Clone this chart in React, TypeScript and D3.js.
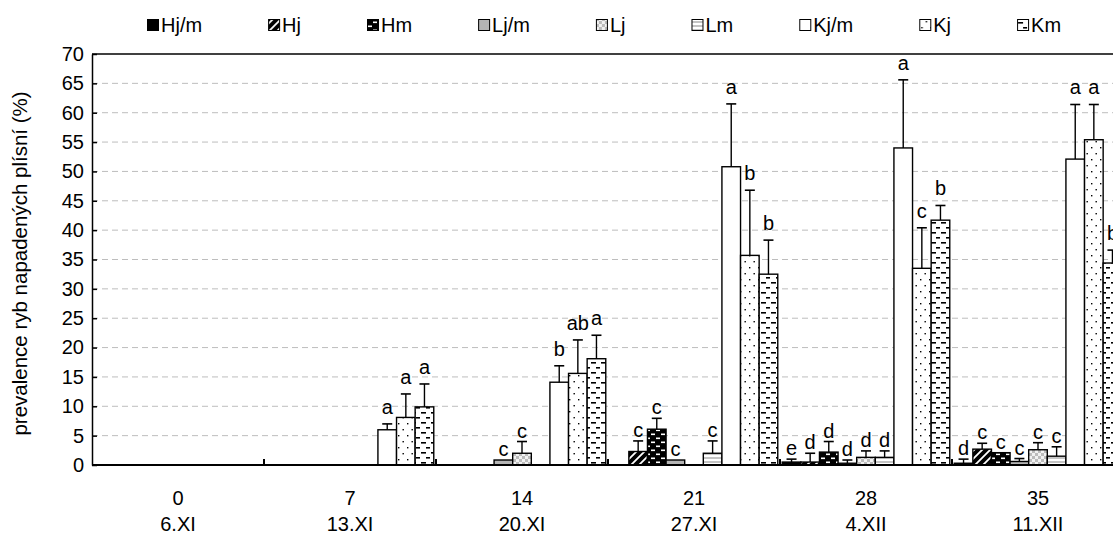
import React, { useEffect, useRef } from 'react';
import * as d3 from 'd3';

const days = ['0', '7', '14', '21', '28', '35'];
const dates = ['6.XI', '13.XI', '20.XI', '27.XI', '4.XII', '11.XII'];
const series = ['Hj/m', 'Hj', 'Hm', 'Lj/m', 'Lj', 'Lm', 'Kj/m', 'Kj', 'Km'];
const yTicks = [0, 5, 10, 15, 20, 25, 30, 35, 40, 45, 50, 55, 60, 65, 70];

// prevalence (%) per day, null = no bar
const hjmValues = [null, null, null, null, 0.5, 0.3];
const hjValues = [null, null, null, 2.3, 0.5, 2.7];
const hmValues = [null, null, null, 6.1, 2.2, 2.1];
const ljmValues = [null, null, 0.85, 0.85, 0.3, 0.6];
const ljValues = [null, null, 2.0, null, 1.3, 2.6];
const lmValues = [null, null, null, 2.0, 1.3, 1.5];
const kjmValues = [null, 6.0, 14.1, 50.8, 54.0, 52.1];
const kjValues = [null, 8.1, 15.6, 35.7, 33.5, 55.4];
const kmValues = [null, 9.9, 18.1, 32.5, 41.7, 34.4];

// upper error (SD)
const hjmErr = [0, 0, 0, 0, 0.5, 0.7];
const hjErr = [0, 0, 0, 1.8, 1.5, 1.0];
const hmErr = [0, 0, 0, 1.85, 1.8, 0];
const ljmErr = [0, 0, 0, 0, 0.55, 0.5];
const ljErr = [0, 0, 2.0, 0, 1.1, 1.2];
const lmErr = [0, 0, 0, 2.1, 1.1, 1.6];
const kjmErr = [0, 1.0, 2.8, 10.7, 11.6, 9.3];
const kjErr = [0, 4.0, 5.7, 11.1, 6.9, 6.0];
const kmErr = [0, 3.9, 4.0, 5.8, 2.5, 2.2];

// significance letters
const hjmLetters = ['', '', '', '', 'e', 'd'];
const hjLetters = ['', '', '', 'c', 'd', 'c'];
const hmLetters = ['', '', '', 'c', 'd', 'c'];
const ljmLetters = ['', '', 'c', 'c', 'd', 'c'];
const ljLetters = ['', '', 'c', '', 'd', 'c'];
const lmLetters = ['', '', '', 'c', 'd', 'c'];
const kjmLetters = ['', 'a', 'b', 'a', 'a', 'a'];
const kjLetters = ['', 'a', 'ab', 'b', 'c', 'a'];
const kmLetters = ['', 'a', 'a', 'b', 'b', 'b'];

const allValues = [hjmValues, hjValues, hmValues, ljmValues, ljValues, lmValues, kjmValues, kjValues, kmValues];
const allErr = [hjmErr, hjErr, hmErr, ljmErr, ljErr, lmErr, kjmErr, kjErr, kmErr];
const allLetters = [hjmLetters, hjLetters, hmLetters, ljmLetters, ljLetters, lmLetters, kjmLetters, kjLetters, kmLetters];

const FONT = '"Liberation Sans", Arial, sans-serif';
const FS = 20;

const App = () => {
  const ref = useRef<SVGSVGElement>(null);

  useEffect(() => {
    const width = 1113;
    const height = 536;
    const left = 92;
    const top = 54;
    const bottom = 465;
    const groupW = 172;

    const svg = d3.select(ref.current);
    svg.selectAll('*').remove();
    svg.append('rect').attr('width', width).attr('height', height).attr('fill', '#fff');

    // patterns
    const defs = svg.append('defs');
    const pat = (id: string, w: number, h: number, bg: string) => {
      const p = defs.append('pattern').attr('id', id).attr('patternUnits', 'userSpaceOnUse')
        .attr('width', w).attr('height', h);
      p.append('rect').attr('width', w).attr('height', h).attr('fill', bg);
      return p;
    };
    pat('p0', 4, 4, '#000');
    const p1 = pat('p1', 8, 8, '#000');
    p1.append('path').attr('d', 'M-1,9 L9,-1 M-3,3 L3,-3 M5,11 L11,5').attr('stroke', '#fff').attr('stroke-width', 1.8);
    const p2 = pat('p2', 10, 8, '#000');
    p2.append('rect').attr('x', 1).attr('y', 1.5).attr('width', 4).attr('height', 1.6).attr('fill', '#fff');
    p2.append('rect').attr('x', 6).attr('y', 5.5).attr('width', 4).attr('height', 1.6).attr('fill', '#fff');
    pat('p3', 4, 4, '#b4b4b4');
    const p4 = pat('p4', 6, 6, '#f2f2f2');
    p4.append('rect').attr('width', 3).attr('height', 3).attr('fill', '#bcbcbc');
    p4.append('rect').attr('x', 3).attr('y', 3).attr('width', 3).attr('height', 3).attr('fill', '#bcbcbc');
    const p5 = pat('p5', 4, 4, '#fff');
    p5.append('rect').attr('y', 1).attr('width', 4).attr('height', 2).attr('fill', '#c4c4c4');
    pat('p6', 4, 4, '#fff');
    const p7 = pat('p7', 9, 12, '#fff');
    p7.append('rect').attr('x', 2).attr('y', 3).attr('width', 1.4).attr('height', 1.4).attr('fill', '#000');
    p7.append('rect').attr('x', 6.5).attr('y', 9).attr('width', 1.4).attr('height', 1.4).attr('fill', '#000');
    const p8 = pat('p8', 10, 10, '#fff');
    p8.append('rect').attr('x', 1).attr('y', 2).attr('width', 5).attr('height', 1.6).attr('fill', '#000');
    p8.append('rect').attr('x', 6).attr('y', 7).attr('width', 5).attr('height', 1.6).attr('fill', '#000');

    const fillOf = (i: number) => `url(#p${i})`;

    const x0 = d3.scaleBand().domain(days).range([left, left + groupW * days.length]);
    const x1 = d3.scaleBand().domain(series).range([0, x0.bandwidth()]).paddingOuter(0.12);
    const y = d3.scaleLinear().domain([0, 70]).range([bottom, top]);

    // grid
    svg.append('g').selectAll('line').data(yTicks.filter((t) => t > 0 && t < 70)).enter().append('line')
      .attr('x1', left).attr('x2', width).attr('y1', (d) => y(d)).attr('y2', (d) => y(d))
      .attr('stroke', '#bdbdbd').attr('stroke-width', 1).attr('stroke-dasharray', '6,4');

    // frame top
    svg.append('line').attr('x1', left).attr('x2', width).attr('y1', top).attr('y2', top)
      .attr('stroke', '#000').attr('stroke-width', 1.5);

    // y axis
    const yAxis = svg.append('g').attr('transform', `translate(${left},0)`)
      .call(d3.axisLeft(y).tickValues(yTicks).tickSizeInner(-5).tickSizeOuter(0).tickPadding(8));
    yAxis.select('.domain').attr('stroke-width', 1.5);
    yAxis.selectAll('.tick line').attr('stroke-width', 1.5);
    yAxis.selectAll('text').attr('font-family', FONT).attr('font-size', FS).attr('fill', '#000');

    svg.append('text').attr('transform', `translate(27,${(top + bottom) / 2 + 4}) rotate(-90)`)
      .attr('text-anchor', 'middle').attr('font-family', FONT).attr('font-size', 20.5)
      .text('prevalence ryb napadených plísní (%)');

    // bars
    const rows: { g: string; s: number; v: number; e: number; l: string }[] = [];
    days.forEach((g, gi) => {
      series.forEach((_, si) => {
        const v = allValues[si][gi];
        if (v == null) return;
        rows.push({ g, s: si, v, e: allErr[si][gi], l: allLetters[si][gi] });
      });
    });
    const bw = x1.bandwidth();
    const cx = (d: { g: string; s: number }) => (x0(d.g) as number) + (x1(series[d.s]) as number) + bw / 2;

    const bars = svg.append('g').selectAll('g').data(rows).enter().append('g');
    bars.append('rect')
      .attr('x', (d) => cx(d) - bw / 2).attr('y', (d) => y(d.v))
      .attr('width', bw).attr('height', (d) => y(0) - y(d.v))
      .attr('fill', (d) => fillOf(d.s)).attr('stroke', '#000').attr('stroke-width', 1.4);
    const eb = bars.filter((d) => d.e > 0);
    eb.append('line').attr('x1', cx).attr('x2', cx).attr('y1', (d) => y(d.v)).attr('y2', (d) => y(d.v + d.e))
      .attr('stroke', '#000').attr('stroke-width', 1.4);
    eb.append('line').attr('x1', (d) => cx(d) - 5).attr('x2', (d) => cx(d) + 5)
      .attr('y1', (d) => y(d.v + d.e)).attr('y2', (d) => y(d.v + d.e))
      .attr('stroke', '#000').attr('stroke-width', 1.6);
    bars.append('text').attr('x', cx).attr('y', (d) => y(d.v + d.e) - (d.s >= 6 ? 10 : 4))
      .attr('text-anchor', 'middle').attr('font-family', FONT).attr('font-size', FS)
      .text((d) => d.l);

    // x axis
    svg.append('line').attr('x1', left).attr('x2', width).attr('y1', bottom).attr('y2', bottom)
      .attr('stroke', '#000').attr('stroke-width', 2.2);
    svg.append('g').selectAll('line').data(days.slice(1)).enter().append('line')
      .attr('x1', (d) => x0(d) as number).attr('x2', (d) => x0(d) as number)
      .attr('y1', bottom).attr('y2', bottom - 6).attr('stroke', '#000').attr('stroke-width', 2);
    const xl = svg.append('g').selectAll('g').data(days).enter().append('g')
      .attr('transform', (d) => `translate(${(x0(d) as number) + x0.bandwidth() / 2},0)`)
      .attr('font-family', FONT).attr('font-size', FS).attr('text-anchor', 'middle');
    xl.append('text').attr('y', 505).text((d) => d);
    xl.append('text').attr('y', 531).text((d, i) => dates[i]);

    // legend
    let lx = 147;
    series.forEach((s, i) => {
      const g = svg.append('g').attr('transform', `translate(${lx},0)`);
      g.append('rect').attr('x', 0.5).attr('y', 19.5).attr('width', 11).attr('height', 11)
        .attr('fill', fillOf(i)).attr('stroke', '#000').attr('stroke-width', 1);
      const t = g.append('text').attr('x', 14).attr('y', 32).attr('font-family', FONT).attr('font-size', FS).text(s);
      const tw = (t.node() as SVGTextElement).getComputedTextLength();
      lx += 14 + tw + 66;
    });
  }, []);

  return <svg ref={ref} width={1113} height={536} style={{ position: 'absolute', left: 0, top: 0 }} />;
};

export default App;
